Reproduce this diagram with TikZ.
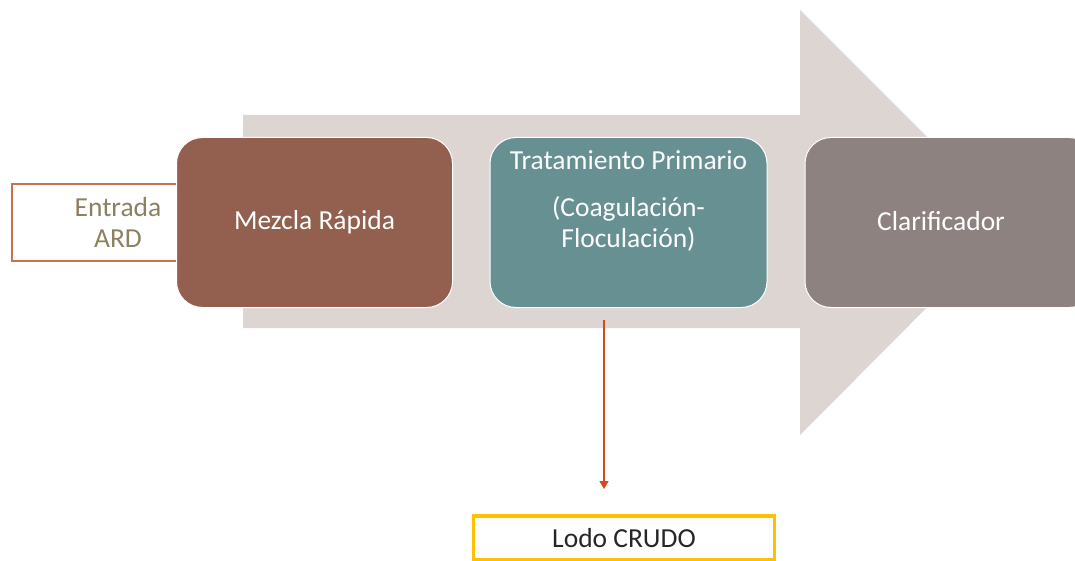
\documentclass[tikz,border=0pt]{standalone}
\usepackage{fontspec}
\setmainfont{Carlito}
\definecolor{arrowbg}{HTML}{DDD5D2}
\definecolor{mezcla}{HTML}{93604F}
\definecolor{trat}{HTML}{679092}
\definecolor{clar}{HTML}{8E8281}
\definecolor{entline}{HTML}{C8714F}
\definecolor{enttext}{HTML}{8C8060}
\definecolor{redarrow}{HTML}{D24A1E}
\definecolor{lodoline}{HTML}{FFC000}
\usetikzlibrary{arrows.meta}
\begin{document}
\begin{tikzpicture}[x=1pt,y=-1pt,
  bigfont/.style={font=\fontsize{27.5}{31}\selectfont},
  stagebox/.style={draw=white,line width=1pt,rounded corners=26pt,minimum width=276pt,minimum height=170pt,inner sep=0pt,text=white,bigfont,align=center},
  plainbox/.style={inner sep=0pt}]
\useasboundingbox (0,0) rectangle (1075,561);
% big background arrow
\fill[arrowbg] (243,115) -- (800,115) -- (800,10) -- (1012,222) -- (800,435) -- (800,328) -- (243,328) -- cycle;
% entrada box (open at right)
\draw[entline,line width=1.6pt] (178,184) -- (12,184) -- (12,261) -- (178,261);
\node[plainbox,text=enttext,bigfont,align=center] (ent) at (118,222) {Entrada\\ARD};
% stage boxes
\node[stagebox,fill=mezcla] (mez) at (314.5,222.5) {Mezcla Rápida};
\node[stagebox,fill=trat,minimum width=277pt] (trat) at (628.5,222.5) {};
\node[plainbox,text=white,bigfont,align=center] (tratt) at (628.5,201) {Tratamiento Primario\\[16pt](Coagulación-\\Floculación)};
\node[stagebox,fill=clar,minimum width=290pt] (clar) at (950,222.5) {};
\node[plainbox,text=white,bigfont] (clart) at (941,221) {Clarificador};
% lodo box
\node[draw=lodoline,line width=3.2pt,minimum width=301pt,minimum height=44pt,inner sep=0pt,bigfont,text={black!85}] (lodo) at (624,538) {Lodo CRUDO};
\coordinate (astart) at (604,320);
\coordinate (aend) at (604,489);
\draw[redarrow,line width=1.2pt,-{Triangle[length=8pt,width=9pt]}] (astart) -- (aend);
\end{tikzpicture}
\end{document}
